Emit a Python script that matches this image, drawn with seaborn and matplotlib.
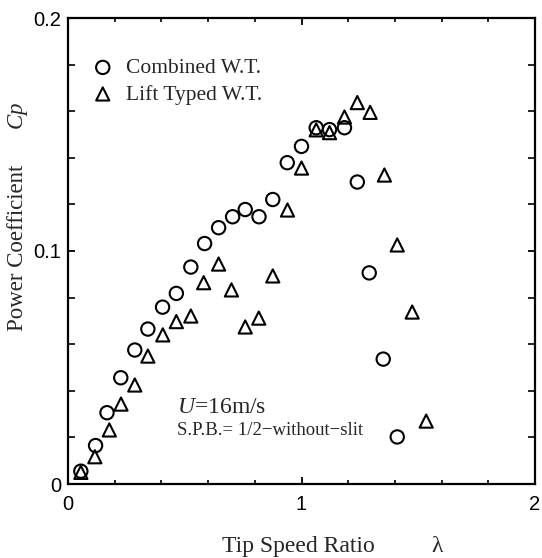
import matplotlib
matplotlib.use('Agg')
import matplotlib.pyplot as plt
import matplotlib.ticker as mticker
import seaborn as sns

# Combined W.T. (circles)
lam_comb = [0.055, 0.118, 0.167, 0.226, 0.286, 0.342, 0.405, 0.464, 0.526, 0.585,
            0.645, 0.705, 0.759, 0.818, 0.877, 0.939, 1.0, 1.063, 1.12, 1.184,
            1.239, 1.29, 1.35, 1.41]
cp_comb = [0.0055, 0.0165, 0.0306, 0.0456, 0.0575, 0.0665, 0.0759, 0.0818, 0.0931, 0.1032,
           0.110, 0.1147, 0.1178, 0.1147, 0.1221, 0.1379, 0.1449, 0.1529, 0.1521, 0.1529,
           0.1296, 0.0906, 0.0536, 0.0202]

# Lift Typed W.T. (triangles)
lam_lift = [0.055, 0.115, 0.177, 0.227, 0.286, 0.342, 0.406, 0.464, 0.526, 0.581,
            0.645, 0.70, 0.759, 0.817, 0.877, 0.94, 1.0, 1.063, 1.12, 1.184,
            1.239, 1.294, 1.355, 1.41, 1.474, 1.534]
cp_lift = [0.005, 0.0117, 0.0232, 0.0343, 0.0425, 0.0549, 0.064, 0.0697, 0.0721, 0.0864,
           0.0944, 0.0833, 0.0674, 0.0712, 0.0893, 0.1176, 0.1356, 0.152, 0.1508, 0.1575,
           0.1637, 0.1595, 0.1326, 0.1026, 0.0738, 0.027]

x_ticks = [0, 1, 2]
y_ticks = [0, 0.1, 0.2]
y_ticklabels = ['0', '0.1', '0.2']

sns.set_style('ticks')
plt.rcParams['font.family'] = ['Liberation Serif', 'DejaVu Serif']
plt.rcParams['mathtext.fontset'] = 'custom'
plt.rcParams['mathtext.rm'] = 'Liberation Serif'
plt.rcParams['mathtext.it'] = 'Liberation Serif:italic'

fig = plt.figure(figsize=(5.42, 5.58), dpi=100)
ax = fig.add_axes([68 / 542, 1 - 484 / 558, 467 / 542, 466 / 558])

sns.scatterplot(x=lam_comb, y=cp_comb, ax=ax, marker='o', s=92,
                facecolor='none', edgecolor='black', linewidth=1.5,
                label='Combined W.T.', zorder=3)
sns.scatterplot(x=lam_lift, y=cp_lift, ax=ax, marker='^', s=90,
                facecolor='none', edgecolor='black', linewidth=1.5,
                label='Lift Typed W.T.', zorder=3)

ax.set_xlim(0, 2)
ax.set_ylim(0, 0.2)
ax.xaxis.set_major_locator(mticker.FixedLocator(x_ticks))
ax.xaxis.set_minor_locator(mticker.MultipleLocator(0.2))
ax.yaxis.set_major_locator(mticker.FixedLocator(y_ticks))
ax.yaxis.set_minor_locator(mticker.MultipleLocator(0.02))
ax.set_yticklabels(y_ticklabels)

for s in ax.spines.values():
    s.set_visible(True)
    s.set_linewidth(1.6)
    s.set_color('black')

ax.tick_params(which='both', direction='in', top=True, right=True, colors='black')
ax.tick_params(axis='x', which='major', length=5, width=1.3, pad=8)
ax.tick_params(axis='y', which='major', length=5, width=1.3, pad=5)
ax.tick_params(axis='x', which='minor', length=3, width=1.2)
ax.tick_params(axis='y', which='minor', length=5, width=1.2)
for lab in ax.get_xticklabels() + ax.get_yticklabels():
    lab.set_fontfamily('Liberation Sans')
    lab.set_fontsize(14.5)

ax.set_xlabel('')
ax.set_ylabel('')

leg = ax.legend(loc='upper left', bbox_to_anchor=(92 / 542, 1 - 58 / 558),
                bbox_transform=fig.transFigure, frameon=False, fontsize=15.5,
                handlelength=1.0, handletextpad=0.6, labelspacing=0.3,
                borderpad=0, borderaxespad=0)

fig.text(177 / 542, 1 - 413 / 558, r'$\it{U}$=16m/s', fontsize=17,
         ha='left', va='baseline')
fig.text(177 / 542, 1 - 435 / 558, 'S.P.B.= 1/2\u2212without\u2212slit',
         fontsize=13.5, ha='left', va='baseline')

fig.text(222 / 542, 1 - 552 / 558, 'Tip Speed Ratio', fontsize=17,
         ha='left', va='baseline')
fig.text(437 / 542, 1 - 552 / 558, '\u03bb', fontsize=17,
         ha='center', va='baseline')

fig.text(18 / 542, 1 - 248 / 558, 'Power Coefficient', fontsize=16.5,
         rotation=90, ha='center', va='center')
fig.text(18 / 542, 1 - 116 / 558, r'$\it{Cp}$', fontsize=16.5,
         rotation=90, ha='center', va='center')

fig.savefig('out.png', dpi=100)
